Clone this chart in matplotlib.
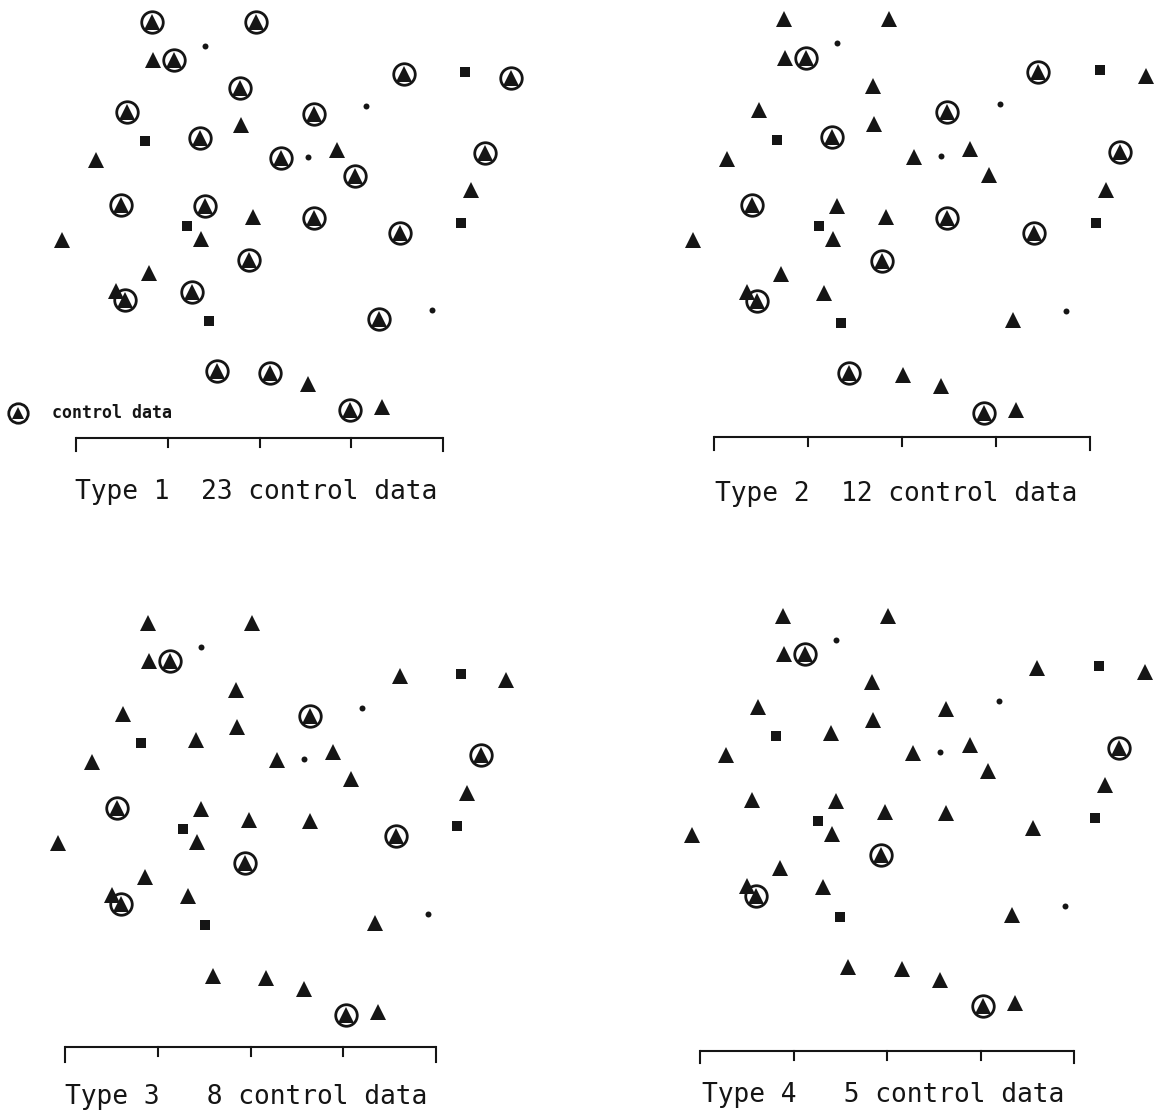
import matplotlib
matplotlib.use("Agg")
import matplotlib.pyplot as plt
import numpy as np

# station positions (pixels, y pointing down)
tri_x = [152, 256, 153, 174, 404, 511, 240, 127, 314, 241, 200, 96, 281, 337, 485, 355, 471, 121,
         205, 253, 314, 62, 201, 400, 249, 149, 116, 125, 192, 379, 217, 270, 308, 350, 382]
tri_y = [22, 22, 60, 60, 74, 78, 88, 112, 114, 125, 138, 160, 158, 150, 153, 176, 190, 205,
         206, 217, 218, 240, 239, 233, 260, 273, 291, 300, 292, 319, 371, 373, 384, 410, 407]
sq_x = [465, 145, 461, 187, 209]
sq_y = [72, 141, 223, 226, 321]
dot_x = [205, 366, 308, 432]
dot_y = [46, 106, 157, 310]

# which triangles are control data in each type (index into tri_x / tri_y)
control_1 = [0, 1, 3, 4, 5, 6, 7, 8, 10, 12, 14, 15, 17, 18, 20, 23, 24, 27, 28, 29, 30, 31, 33]
control_2 = [3, 4, 8, 10, 14, 17, 20, 23, 24, 27, 30, 33]
control_3 = [3, 8, 14, 17, 23, 24, 27, 33]
control_4 = [3, 14, 24, 27, 33]
controls = [control_1, control_2, control_3, control_4]

titles = ["Type 1  23 control data", "Type 2  12 control data",
          "Type 3   8 control data", "Type 4   5 control data"]

W, H = 1165, 1118
ink = "#151515"

# per panel: scale/offset of the scanned copy, quadrant, scale bar, title anchor (pixels)
panels = [
    dict(s=(1.0, 0.0, 1.0, 0.0), box=(0, 582, 0, 559), bar=(76, 443, 438, 13), title=(75, 492)),
    dict(s=(1.009, 630.4, 1.015, -3.3), box=(582, 1165, 0, 559), bar=(714, 1090, 437, 13), title=(715, 494)),
    dict(s=(0.998, -3.5, 1.01, 600.8), box=(0, 582, 559, 1118), bar=(65, 436, 1047, 15), title=(65, 1097)),
    dict(s=(1.009, 629.5, 1.005, 594.0), box=(582, 1165, 559, 1118), bar=(700, 1074, 1051, 12), title=(702, 1095)),
]

fig = plt.figure(figsize=(W / 100, H / 100), dpi=100)
fig.patch.set_facecolor("white")

# background axes in pixel units for scale bars, titles and legend
bg = fig.add_axes([0, 0, 1, 1])
bg.set_xlim(0, W)
bg.set_ylim(H, 0)
bg.axis("off")

for p, title in zip(panels, titles):
    x0, x1, yb, endlen = p["bar"]
    bg.plot([x0, x1], [yb, yb], color=ink, lw=1.5, solid_capstyle="butt")
    ticks = np.linspace(x0, x1, 5)
    for i, t in enumerate(ticks):
        ln = endlen if i in (0, 4) else 9
        bg.plot([t, t], [yb, yb + ln], color=ink, lw=1.5)
    tx, ty = p["title"]
    bg.text(tx, ty, title, fontsize=18.9, family="DejaVu Sans Mono",
            color=ink, ha="left", va="center")

# legend of panel 1
bg.plot(18, 413, marker="^", ms=9, color=ink, mew=0)
bg.plot(18, 413, marker="o", ms=14, mfc="none", mec=ink, mew=2.0)
bg.text(52, 413, "control data", fontsize=12, family="DejaVu Sans Mono",
        weight="bold", color=ink, ha="left", va="center")

for p, ctrl in zip(panels, controls):
    sx, ox, sy, oy = p["s"]
    X0, X1, Y0, Y1 = p["box"]
    ax = fig.add_axes([X0 / W, 1 - Y1 / H, (X1 - X0) / W, (Y1 - Y0) / H])
    ax.set_xlim((X0 - ox) / sx, (X1 - ox) / sx)
    ax.set_ylim((Y1 - oy) / sy, (Y0 - oy) / sy)
    ax.axis("off")
    ax.patch.set_alpha(0)

    ax.plot(tri_x, tri_y, ls="none", marker="^", ms=11, color=ink, mew=0, clip_on=False)
    ax.plot(sq_x, sq_y, ls="none", marker="s", ms=6.5, color=ink, mew=0, clip_on=False)
    ax.plot(dot_x, dot_y, ls="none", marker="o", ms=4.3, color=ink, mew=0, clip_on=False)
    cx = [tri_x[i] for i in ctrl]
    cy = [tri_y[i] for i in ctrl]
    ax.plot(cx, cy, ls="none", marker="o", ms=15.5, mfc="none", mec=ink, mew=2.0, clip_on=False)

fig.savefig("out.png", dpi=100, facecolor="white")
